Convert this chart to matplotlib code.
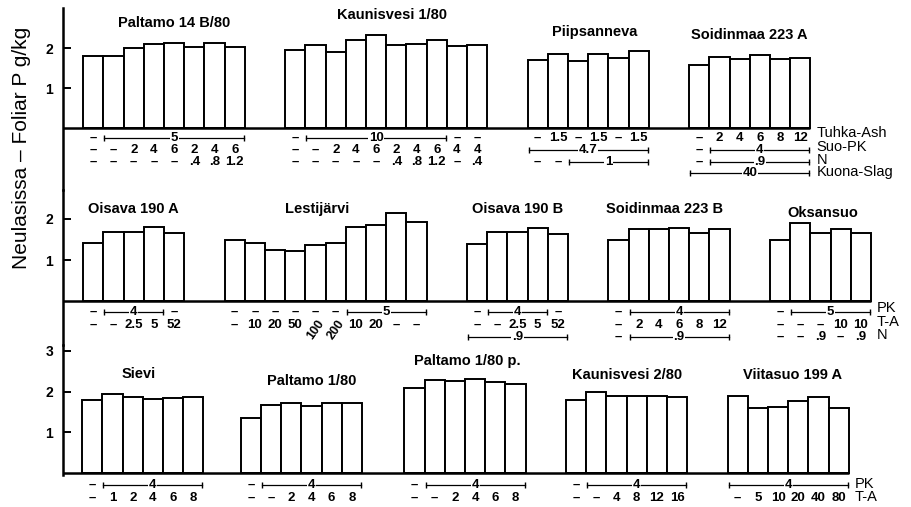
import numpy as np
import matplotlib.pyplot as plt

plt.rcParams['font.family'] = ['Liberation Sans', 'DejaVu Sans']

# ---------------- upper panel ----------------
names1 = ["Paltamo 14 B/80", "Kaunisvesi 1/80", "Piipsanneva", "Soidinmaa 223 A"]
values1 = [
    [1.80, 1.80, 2.01, 2.09, 2.13, 2.03, 2.13, 2.03],
    [1.94, 2.08, 1.90, 2.19, 2.32, 2.07, 2.09, 2.19, 2.04, 2.07],
    [1.71, 1.86, 1.67, 1.84, 1.76, 1.92],
    [1.57, 1.78, 1.73, 1.82, 1.73, 1.76],
]
# strings = one column, (text, n) = bracket over n columns, "/x" = rotated
rows1 = [
    [["-", ("5", 7)],
     ["-", "-", "2", "4", "6", "2", "4", "6"],
     ["-", "-", "-", "-", "-", ".4", ".8", "1.2"]],
    [["-", ("10", 7), "-", "-"],
     ["-", "-", "2", "4", "6", "2", "4", "6", "4", "4"],
     ["-", "-", "-", "-", "-", ".4", ".8", "1.2", "-", ".4"]],
    [["-", "1.5", "-", "1.5", "-", "1.5"],
     [("4.7", 6)],
     ["-", "-", ("1", 4)]],
    [["-", "2", "4", "6", "8", "12"],
     ["-", ("4", 5)],
     ["-", (".9", 5)],
     [("40", 6)]],
]
labels1 = ["Tuhka-Ash", "Suo-PK", "N", "Kuona-Slag"]

# ---------------- middle panel ----------------
names2 = ["Oisava 190 A", "Lestijärvi", "Oisava 190 B", "Soidinmaa 223 B", "Oksansuo"]
values2 = [
    [1.41, 1.69, 1.69, 1.80, 1.65],
    [1.49, 1.42, 1.24, 1.23, 1.37, 1.41, 1.81, 1.85, 2.14, 1.93],
    [1.38, 1.68, 1.68, 1.77, 1.63],
    [1.49, 1.76, 1.76, 1.77, 1.67, 1.76],
    [1.50, 1.90, 1.65, 1.75, 1.65],
]
rows2 = [
    [["-", ("4", 3), "-"],
     ["-", "-", "2.5", "5", "52"]],
    [["-", "-", "-", "-", "-", "-", ("5", 4)],
     ["-", "10", "20", "50", "/100", "/200", "10", "20", "-", "-"]],
    [["-", ("4", 3), "-"],
     ["-", "-", "2.5", "5", "52"],
     [(".9", 5)]],
    [["-", ("4", 5)],
     ["-", "2", "4", "6", "8", "12"],
     ["-", (".9", 5)]],
    [["-", ("5", 4)],
     ["-", "-", "-", "10", "10"],
     ["-", "-", ".9", "-", ".9"]],
]
labels2 = ["PK", "T-A", "N"]

# ---------------- lower panel ----------------
names3 = ["Sievi", "Paltamo 1/80", "Paltamo 1/80 p.", "Kaunisvesi 2/80", "Viitasuo 199 A"]
values3 = [
    [1.79, 1.93, 1.86, 1.82, 1.85, 1.87],
    [1.34, 1.67, 1.71, 1.65, 1.71, 1.71],
    [2.08, 2.28, 2.27, 2.31, 2.24, 2.18],
    [1.79, 1.98, 1.89, 1.89, 1.89, 1.87],
    [1.89, 1.60, 1.63, 1.77, 1.87, 1.60],
]
rows3 = [
    [["-", ("4", 5)], ["-", "1", "2", "4", "6", "8"]],
    [["-", ("4", 5)], ["-", "-", "2", "4", "6", "8"]],
    [["-", ("4", 5)], ["-", "-", "2", "4", "6", "8"]],
    [["-", ("4", 5)], ["-", "-", "4", "8", "12", "16"]],
    [[("4", 6)], ["-", "5", "10", "20", "40", "80"]],
]
labels3 = ["PK", "T-A"]

W, H = 912, 507
X0 = 63        # vertical axis, px
SLOT = 20.2    # bar width, px

panels = [
    dict(names=names1, values=values1, rows=rows1, labels=labels1,
         starts=[1, 11, 23, 31], title_y=[2.63, 2.83, 2.40, 2.33],
         title_dx=[0.5, 0.3, 0.3, 0.0], box=(8, 190, 128, 40.0),
         ticks=[1, 2], row_y=[-0.24, -0.54, -0.85, -1.13],
         label_y=[-0.13, -0.47, -0.79, -1.11], spine=(None, 3.0)),
    dict(names=names2, values=values2, rows=rows2, labels=labels2,
         starts=[1, 8, 20, 27, 35], title_y=[2.24, 2.24, 2.24, 2.24, 2.15],
         title_dx=[0.0, -0.4, 0.0, -0.2, 0.1], box=(190, 345, 301, 41.0),
         ticks=[1, 2], row_y=[-0.27, -0.58, -0.88],
         label_y=[-0.17, -0.5, -0.82], spine=(None, None)),
    dict(names=names3, values=values3, rows=rows3, labels=labels3,
         starts=[0.95, 8.8, 16.9, 24.9, 32.9], title_y=[2.43, 2.26, 2.76, 2.41, 2.41],
         title_dx=[-0.2, 0.5, 0.1, 0.0, 0.2], box=(345, 507, 473, 40.7),
         ticks=[1, 2, 3], row_y=[-0.29, -0.61],
         label_y=[-0.26, -0.6], spine=(-0.05, None)),
]

fig = plt.figure(figsize=(W / 100, H / 100), dpi=100)

for p in panels:
    top, bot, base, ppu = p["box"]
    ax = fig.add_axes([X0 / W, 1 - bot / H, (W - X0) / W, (bot - top) / H])
    ax.set_xlim(0, (W - X0) / SLOT)
    ylo, yhi = (base - bot) / ppu, (base - top) / ppu
    ax.set_ylim(ylo, yhi)
    ax.patch.set_alpha(0)
    for s in ["top", "right", "bottom"]:
        ax.spines[s].set_visible(False)
    ax.spines["left"].set_linewidth(1.8)
    lo, hi = p["spine"]
    ax.spines["left"].set_bounds(ylo if lo is None else lo, yhi if hi is None else hi)
    ax.set_xticks([])
    ax.set_yticks(p["ticks"])
    ax.set_yticklabels([str(t) for t in p["ticks"]], fontsize=10, fontweight="bold")
    ax.tick_params(axis="y", direction="in", length=6, width=1.4, pad=7)

    end = p["starts"][-1] + len(p["values"][-1])
    ax.plot([0, end], [0, 0], color="black", lw=1.8, solid_capstyle="butt", zorder=3)

    for name, vals, rows, s, ty, tdx in zip(p["names"], p["values"], p["rows"],
                                            p["starts"], p["title_y"], p["title_dx"]):
        x = s + np.arange(len(vals)) + 0.5
        ax.bar(x, vals, width=1, color="white", edgecolor="black", linewidth=1.4, zorder=2)
        ax.text(s + len(vals) / 2 + tdx, ty, name, ha="center", va="center",
                fontsize=10.5, fontweight="bold")
        for r, row in enumerate(rows):
            y = p["row_y"][r]
            col = 0
            for item in row:
                if isinstance(item, tuple):
                    lab, n = item
                    x0, x1 = s + col + 0.05, s + col + n - 0.05
                    ax.plot([x0, x1], [y, y], color="black", lw=0.9, marker="|",
                            ms=5, mew=1.0, zorder=2)
                    ax.text((x0 + x1) / 2, y, lab, ha="center", va="center", fontsize=9.5,
                            fontweight="bold", zorder=4,
                            bbox=dict(fc="white", ec="none", pad=0.6))
                    col += n
                else:
                    if item.startswith("/"):
                        ax.text(s + col + 0.5, y - 0.12, item[1:], ha="center", va="center",
                                fontsize=9, fontweight="bold", rotation=55)
                    else:
                        txt = "\u2013" if item == "-" else item
                        ax.text(s + col + 0.5, y, txt, ha="center", va="center",
                                fontsize=9.5, fontweight="bold")
                    col += 1
    for r, lab in enumerate(p["labels"]):
        ax.text(end + 0.3, p["label_y"][r], lab, ha="left", va="center", fontsize=10.5)

fig.text(22 / W, 1 - 148 / H, "Neulasissa \u2013 Foliar P g/kg", rotation=90,
         ha="center", va="center", fontsize=15)

fig.savefig("out.png", dpi=100, facecolor="white")
